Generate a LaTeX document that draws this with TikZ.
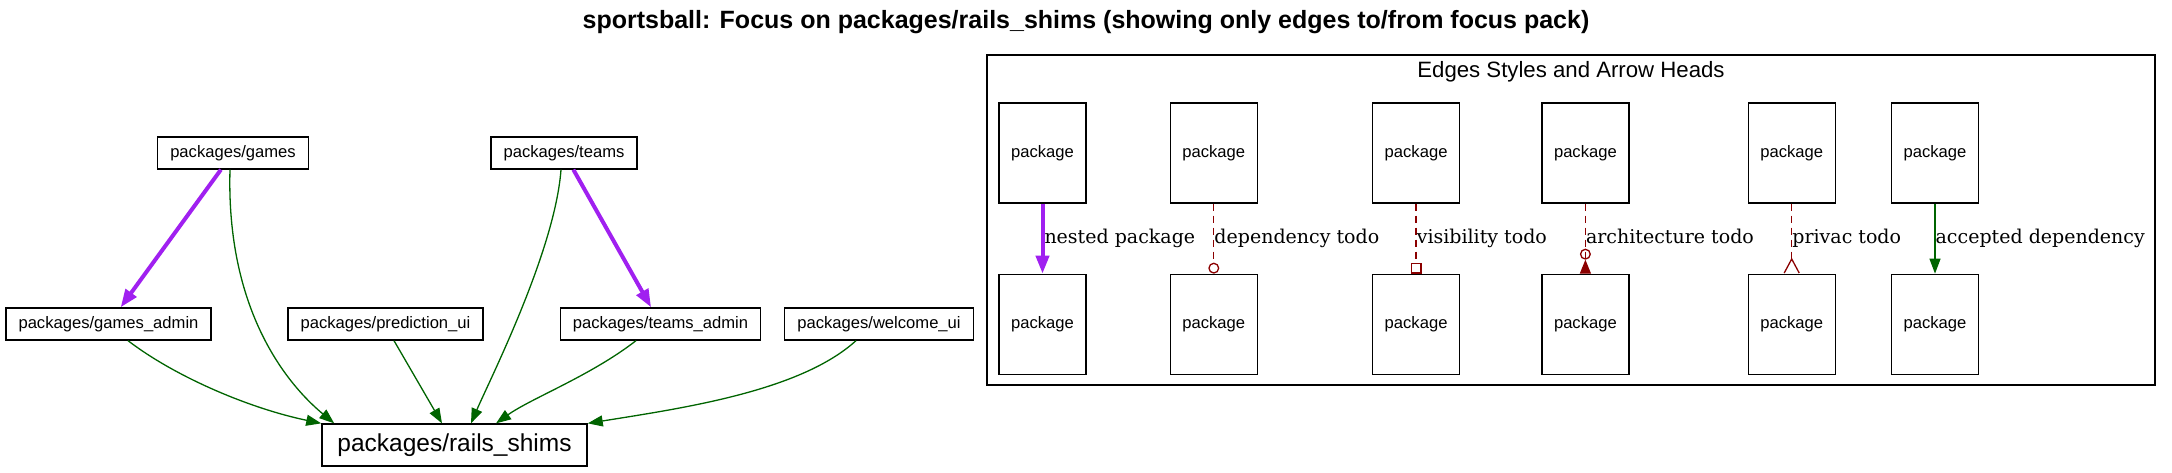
\documentclass[tikz,border=0pt]{standalone}
\usepackage{fontspec}
\setmainfont{Liberation Sans}
\newfontfamily\edgefont{DejaVu Serif}
\usetikzlibrary{positioning}
\usetikzlibrary{arrows.meta}

\definecolor{nestpurple}{RGB}{160,32,240}
\definecolor{okgreen}{RGB}{0,100,0}
\definecolor{todored}{RGB}{139,0,0}

\tikzset{
	pack/.style = {draw, line width = 1.3pt, inner xsep = 12.5pt, minimum height = 32pt, font = \fontsize{16.6}{20}\selectfont},
	focuspack/.style = {pack, inner xsep = 15.5pt, minimum height = 42pt, font = \fontsize{24.5}{29}\selectfont},
	legendpack/.style = {draw, line width = 1.3pt, minimum width = 87pt, minimum height = 100pt, font = \fontsize{16.6}{20}\selectfont},
	nested/.style = {draw = nestpurple, line width = 4pt, -{Triangle[length = 18pt, width = 13pt]}},
	accepted/.style = {draw = okgreen, line width = 1.3pt, -{Triangle[length = 15pt, width = 11pt]}},
	todo/.style = {draw = todored, line width = 1.3pt, dash pattern = on 7pt off 5pt},
	edgelabel/.style = {anchor = base west, inner sep = 0pt, font = \edgefont\fontsize{19}{23}\selectfont}
}

\begin{document}
\begin{tikzpicture}[x = 1pt, y = -1pt]
		\useasboundingbox (0,0) rectangle (2172,472);
		
		\node[font = \bfseries\fontsize{25}{30}\selectfont] (title) at (1086,22) {sportsball: Focus on packages/rails\_shims (showing only edges to/from focus pack)};
		
		\node[pack] (games) at (233,153) {packages/games};
		\node[pack] (teams) at (564,153) {packages/teams};
		
		\node[pack] (gamesadmin) at (108.5,324) {packages/games\_admin};
		\node[pack] (predictionui) at (385.5,324) {packages/prediction\_ui};
		\node[pack] (teamsadmin) at (660.5,324) {packages/teams\_admin};
		\node[pack] (welcomeui) at (879,324) {packages/welcome\_ui};
		
		\node[focuspack] (rails) at (454.5,445) {packages/rails\_shims};
		
		\path (games) edge[nested] (gamesadmin);
		\path (teams) edge[nested] (teamsadmin);
		
		\draw[accepted] ([xshift = -3pt]games.south) .. controls +(-4,141) and +(-47,-39) .. ([xshift = 13pt]rails.north west);
		\draw[accepted] ([xshift = 19.5pt]gamesadmin.south) .. controls +(47,36) and +(-72,-15) .. (rails.north west);
		\path ([xshift = 8.5pt]predictionui.south) edge[accepted] ([xshift = -12.5pt]rails.north);
		\draw[accepted] ([xshift = -3pt]teams.south) .. controls +(-6,81) and +(19,-44) .. ([xshift = 16.5pt]rails.north);
		\draw[accepted] ([xshift = -24.5pt]teamsadmin.south) .. controls +(-45,35) and +(35,-25) .. ([xshift = 41.5pt]rails.north);
		\draw[accepted] ([xshift = -23pt]welcomeui.south) .. controls +(-56,51) and +(93,-15) .. (rails.north east);
		
		% legend
		\node[draw, line width = 1.5pt, minimum width = 1168pt, minimum height = 330pt] (legend) at (1571,220) {};
		\node[font = \fontsize{22.2}{26}\selectfont] (legendtitle) at (1571,72) {Edges Styles and Arrow Heads};
		
		\node[legendpack] (top1) at (1042.5,153) {package};
		\node[legendpack, right = 83pt of top1] (top2) {package};
		\node[legendpack, right = 114pt of top2] (top3) {package};
		\node[legendpack, right = 81pt of top3] (top4) {package};
		\node[legendpack, right = 118pt of top4] (top5) {package};
		\node[legendpack, right = 55pt of top5] (top6) {package};
		
		\node[legendpack, below = 70pt of top1] (bot1) {package};
		\node[legendpack, below = 70pt of top2] (bot2) {package};
		\node[legendpack, below = 70pt of top3] (bot3) {package};
		\node[legendpack, below = 70pt of top4] (bot4) {package};
		\node[legendpack, below = 70pt of top5] (bot5) {package};
		\node[legendpack, below = 70pt of top6] (bot6) {package};
		
		\path (top1) edge[nested] node[edgelabel, pos = .57] {nested package} (bot1);
		\path (top2) edge[todo, -{Circle[open, length = 11pt, width = 11pt]}] node[edgelabel, pos = .57] {dependency todo} (bot2);
		\path (top3) edge[todo, -{Square[open, length = 11pt, width = 11pt]}] node[edgelabel, pos = .57] {visibility todo} (bot3);
		\path (top4) edge[todo, -{Circle[open, length = 11pt, width = 11pt] Triangle[reversed, length = 14pt, width = 11pt]}] node[edgelabel, pos = .57] {architecture todo} (bot4);
		\path (top5) edge[todo, -{Straight Barb[reversed, length = 14pt, width = 15pt]}] node[edgelabel, pos = .57] {privac todo} (bot5);
		\path (top6) edge[accepted] node[edgelabel, pos = .57] {accepted dependency} (bot6);
	\end{tikzpicture}
\end{document}
